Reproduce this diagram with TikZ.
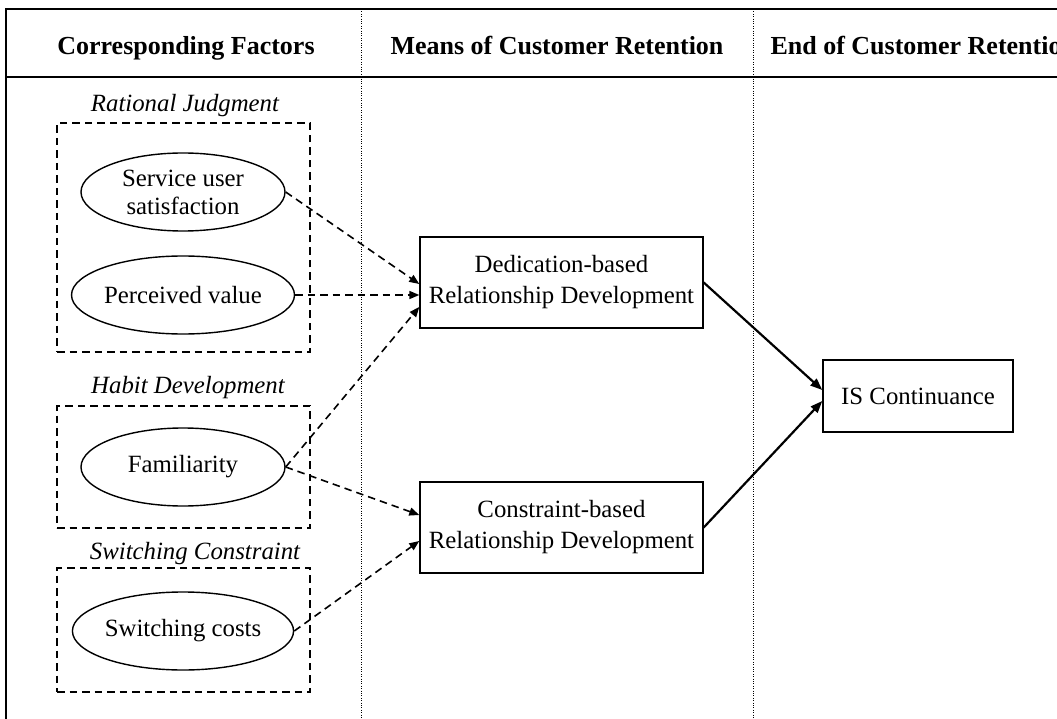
\documentclass[tikz,border=0pt]{standalone}
\usepackage{fontspec}
\setmainfont{Liberation Serif}
\usetikzlibrary{arrows.meta,shapes.geometric}

\begin{document}
\begin{tikzpicture}[x=1pt,y=-1pt,
  frame/.style={line width=1.8pt},
  divider/.style={line width=0.9pt, dash pattern=on 1pt off 1.4pt},
  header/.style={font=\fontsize{26}{31}\selectfont\bfseries, anchor=base},
  group/.style={font=\fontsize{24.8}{30}\selectfont\itshape, anchor=base},
  groupbox/.style={draw, rectangle, line width=1.6pt, dash pattern=on 7.5pt off 5pt, inner sep=0pt},
  factor/.style={draw, ellipse, line width=1.4pt, minimum width=204pt, minimum height=78pt,
    inner sep=0pt, align=center, font=\fontsize{24.8}{28}\selectfont},
  stage/.style={draw, rectangle, line width=1.4pt, align=center, inner sep=0pt,
    font=\fontsize{24.8}{31}\selectfont},
  link/.style={line width=1.6pt, dash pattern=on 7.5pt off 5pt, -{Triangle[length=10pt,width=8pt]}},
  lead/.style={line width=2.2pt, -{Triangle[length=12pt,width=9pt]}},
]
\useasboundingbox (0,0) rectangle (1057,719);
\clip (0,0) rectangle (1057,719);

% table frame and column dividers
\draw[frame] (6,719) -- (6,9) -- (1057,9);
\draw[frame] (6,77) -- (1057,77);
\draw[divider] (361,9) -- (361,719);
\draw[divider] (753,9) -- (753,719);

% column headings
\node[header] (h1) at (186,55) {Corresponding Factors};
\node[header] (h2) at (557,55) {Means of Customer Retention};
\node[header, anchor=base west] (h3) at (767,55) {End of Customer Retention};

% factor groups
\node[group] (gl1) at (185,112) {Rational Judgment};
\node[groupbox, minimum width=253pt, minimum height=229pt] (g1) at (183.5,237.5) {};
\node[group] (gl2) at (188,393) {Habit Development};
\node[groupbox, minimum width=253pt, minimum height=122pt] (g2) at (183.5,467) {};
\node[group] (gl3) at (195,559) {Switching Constraint};
\node[groupbox, minimum width=253pt, minimum height=124pt] (g3) at (183.5,630) {};

% factors
\node[factor] (sus) at (183,192) {Service user\\satisfaction};
\node[factor] (pv)  at (183,295) {Perceived value};
\node[factor] (fam) at (183,467) {Familiarity};
\node[factor] (sc)  at (183,631) {Switching costs};

% means and end of retention
\node[stage, minimum width=283pt, minimum height=91pt] (ded) at (561.5,282.5)
  {Dedication-based\\Relationship Development};
\node[stage, minimum width=283pt, minimum height=91pt] (con) at (561.5,527.5)
  {Constraint-based\\Relationship Development};
\node[stage, minimum width=190pt, minimum height=72pt] (isc) at (918,396) {IS Continuance};

% influences
\draw[link] (sus.east) -- ([yshift=-1.5pt]ded.west);
\draw[link] (pv.east) -- ([yshift=-12.5pt]ded.west);
\draw[link] (fam.east) -- ([yshift=-24.5pt]ded.west);
\draw[link] (fam.east) -- ([yshift=12.5pt]con.west);
\draw[link] (sc.east) -- ([yshift=-13.5pt]con.west);
\draw[lead] (ded.east) -- ([yshift=6pt]isc.west);
\draw[lead] (con.east) -- ([yshift=-5pt]isc.west);
\end{tikzpicture}
\end{document}
